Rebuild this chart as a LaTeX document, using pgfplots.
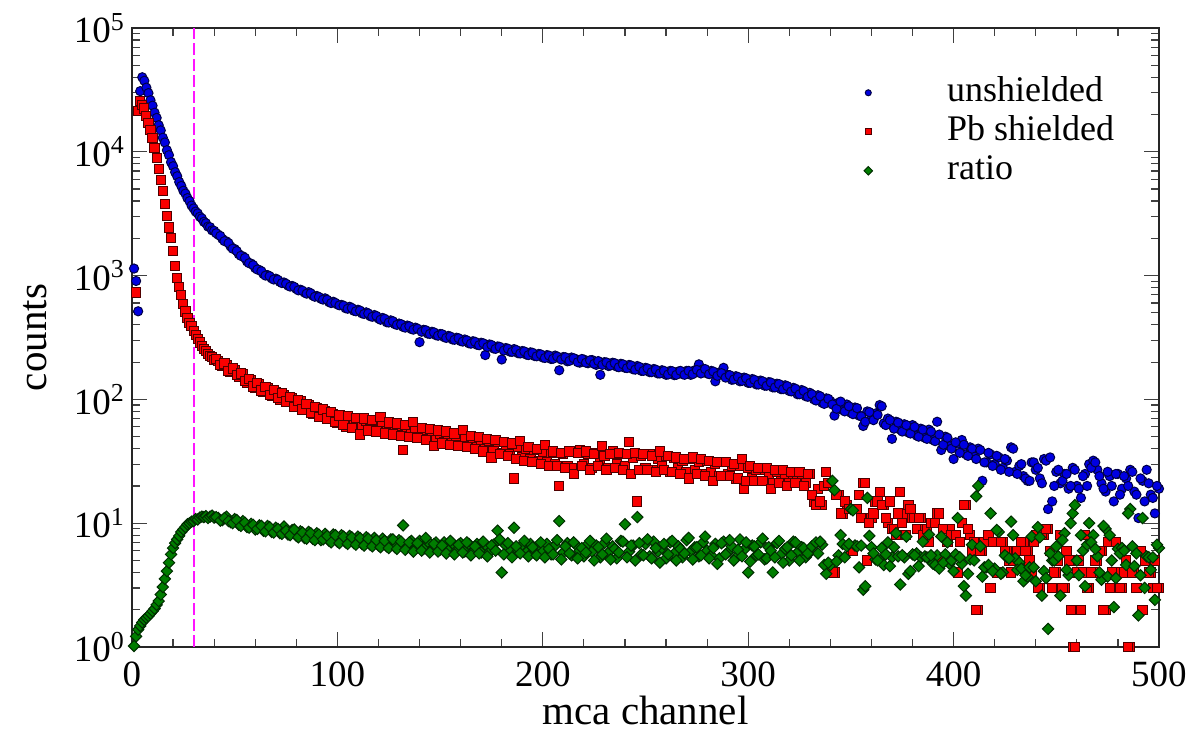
\documentclass[border=0pt]{standalone}
\usepackage{fontspec}
\setmainfont{Liberation Serif}
\usepackage{pgfplots}
\usepackage{pgfplotstable}
\pgfplotsset{compat=1.18}
\definecolor{bfill}{RGB}{0,0,225}
\definecolor{bedge}{RGB}{0,0,70}
\definecolor{rfill}{RGB}{250,0,0}
\definecolor{redge}{RGB}{80,0,0}
\definecolor{gfill}{RGB}{0,125,0}
\definecolor{gedge}{RGB}{0,45,0}
\definecolor{vline}{RGB}{255,20,255}

\pgfplotstableread[row sep=\\]{
x y\\
1 1140\\ 2 905\\ 3 515\\ 4 30900\\ 5 40000\\ 6 37500\\ 7 33000\\ 8 29800\\ 9 26100\\ 10 23600\\
11 20700\\ 12 18800\\ 13 16400\\ 14 14900\\ 15 13000\\ 16 11900\\ 17 10300\\ 18 9400\\ 19 8250\\ 20 7650\\
21 6850\\ 22 6350\\ 23 5700\\ 24 5300\\ 25 4850\\ 26 4600\\ 27 4230\\ 28 4000\\ 29 3680\\ 30 3490\\
31 3290\\ 32 3180\\ 33 2990\\ 34 2900\\ 35 2720\\ 36 2650\\ 37 2490\\ 38 2460\\ 39 2320\\ 40 2300\\
42 2140\\ 44 1980\\ 46 1890\\ 48 1720\\ 50 1640\\ 52 1490\\ 54 1430\\ 56 1300\\ 58 1250\\ 60 1150\\
62 1110\\ 64 1030\\ 66 1010\\ 68 950\\ 70 945\\ 72 890\\ 74 880\\ 76 830\\ 78 825\\ 80 780\\
82 770\\ 84 730\\ 86 735\\ 88 690\\ 90 685\\ 92 650\\ 94 655\\ 96 610\\ 98 615\\ 100 585\\
102 580\\ 104 545\\ 106 560\\ 108 520\\ 110 530\\ 112 495\\ 114 505\\ 116 470\\ 118 480\\ 120 450\\
122 455\\ 124 420\\ 126 435\\ 128 405\\ 130 410\\ 132 385\\ 134 395\\ 136 370\\ 138 380\\ 140 290\\
142 365\\ 144 340\\ 146 352\\ 148 330\\ 150 338\\ 152 318\\ 154 326\\ 156 305\\ 158 315\\ 160 296\\
162 305\\ 164 284\\ 166 295\\ 168 276\\ 170 287\\ 172 228\\ 174 278\\ 176 258\\ 178 268\\ 180 210\\
182 260\\ 184 243\\ 186 255\\ 188 236\\ 190 246\\ 192 230\\ 194 240\\ 196 224\\ 198 233\\ 200 218\\
202 228\\ 204 212\\ 206 226\\ 208 172\\ 210 220\\ 212 203\\ 214 218\\ 216 212\\ 218 198\\ 220 210\\
222 196\\ 224 208\\ 226 190\\ 228 158\\ 230 200\\ 232 186\\ 234 198\\ 236 184\\ 238 194\\ 240 180\\
242 190\\ 244 175\\ 246 186\\ 248 170\\ 250 180\\ 252 166\\ 254 176\\ 256 162\\ 258 172\\ 260 158\\
262 170\\ 264 157\\ 266 168\\ 268 160\\ 270 170\\ 272 158\\ 274 172\\ 276 192\\ 278 175\\ 280 162\\
282 170\\ 284 140\\ 286 165\\ 288 180\\ 290 158\\ 292 144\\ 294 154\\ 296 140\\ 298 150\\ 300 136\\
302 146\\ 304 132\\ 306 142\\ 308 129\\ 310 138\\ 312 125\\ 314 134\\ 316 121\\ 318 130\\ 320 117\\
322 124\\ 324 110\\ 326 119\\ 328 106\\ 330 113\\ 332 100\\ 334 108\\ 336 94\\ 338 102\\ 340 97\\
342 74\\ 344 94\\ 346 82\\ 348 91\\ 350 78\\ 352 86\\ 354 74\\ 356 61\\ 358 80\\ 360 70\\
362 77\\ 364 90\\ 366 64\\ 368 70\\ 370 48\\ 372 66\\ 374 57\\ 376 63\\ 378 54\\ 380 62\\
382 51\\ 384 58\\ 386 49\\ 388 57\\ 390 47\\ 392 66\\ 394 39\\ 396 50\\ 398 42\\ 400 33\\
402 44\\ 404 47\\ 406 36\\ 408 41\\ 410 35\\ 412 40\\ 414 22\\ 416 31\\ 418 36\\ 420 30\\
422 34\\ 424 28\\ 426 32\\ 428 41\\ 430 26\\ 432 29\\ 434 24\\ 436 22\\ 438 31\\ 440 27\\
442 23\\ 444 33\\ 446 13\\ 448 15\\ 450 26\\ 452 21\\ 454 25\\ 456 19\\ 458 28\\ 460 20\\
462 16\\ 464 25\\ 466 30\\ 468 32\\ 470 27\\ 472 21\\ 474 18\\ 476 24\\ 478 15\\ 480 25\\
482 19\\ 484 23\\ 486 27\\ 488 18\\ 490 11\\ 492 22\\ 494 27\\ 496 17\\ 498 12\\ 500 19\\
41 2200\\ 43 2090\\ 45 1900\\ 47 1830\\ 49 1650\\ 51 1580\\ 53 1445\\ 55 1390\\ 57 1260\\ 59 1215\\
61 1120\\ 63 1085\\ 65 1000\\ 67 990\\ 69 930\\ 71 925\\ 73 870\\ 75 860\\ 77 815\\ 79 810\\
81 760\\ 83 755\\ 85 715\\ 87 720\\ 89 675\\ 91 672\\ 93 640\\ 95 638\\ 97 600\\ 99 602\\
101 575\\ 103 572\\ 105 540\\ 107 548\\ 109 515\\ 111 522\\ 113 490\\ 115 495\\ 117 465\\ 119 472\\
121 440\\ 123 448\\ 125 418\\ 127 428\\ 129 400\\ 131 405\\ 133 380\\ 135 390\\ 137 366\\ 139 373\\
141 352\\ 143 362\\ 145 338\\ 147 348\\ 149 327\\ 151 336\\ 153 314\\ 155 322\\ 157 303\\ 159 312\\
161 293\\ 163 300\\ 165 282\\ 167 292\\ 169 274\\ 171 284\\ 173 265\\ 175 275\\ 177 256\\ 179 266\\
181 248\\ 183 257\\ 185 242\\ 187 251\\ 189 235\\ 191 244\\ 193 228\\ 195 238\\ 197 223\\ 199 231\\
201 216\\ 203 226\\ 205 213\\ 207 222\\ 209 210\\ 211 219\\ 213 205\\ 215 215\\ 217 200\\ 219 212\\
221 198\\ 223 207\\ 225 194\\ 227 204\\ 229 190\\ 231 199\\ 233 188\\ 235 196\\ 237 182\\ 239 192\\
241 179\\ 243 188\\ 245 174\\ 247 183\\ 249 170\\ 251 178\\ 253 166\\ 255 174\\ 257 162\\ 259 170\\
261 159\\ 263 169\\ 265 158\\ 267 170\\ 269 158\\ 271 170\\ 273 160\\ 275 173\\ 277 162\\ 279 176\\
281 160\\ 283 168\\ 285 155\\ 287 163\\ 289 150\\ 291 157\\ 293 145\\ 295 152\\ 297 141\\ 299 148\\
301 136\\ 303 144\\ 305 132\\ 307 140\\ 309 129\\ 311 137\\ 313 125\\ 315 133\\ 317 121\\ 319 128\\
321 116\\ 323 122\\ 325 110\\ 327 117\\ 329 105\\ 331 110\\ 333 98\\ 335 106\\ 337 92\\ 339 101\\
341 91\\ 343 84\\ 345 96\\ 347 80\\ 349 88\\ 351 76\\ 353 85\\ 355 73\\ 357 66\\ 359 79\\
361 68\\ 363 75\\ 365 88\\ 367 62\\ 369 68\\ 371 58\\ 373 65\\ 375 55\\ 377 62\\ 379 53\\
381 60\\ 383 50\\ 385 57\\ 387 48\\ 389 55\\ 391 46\\ 393 52\\ 395 43\\ 397 49\\ 399 40\\
401 45\\ 403 37\\ 405 43\\ 407 35\\ 409 40\\ 411 33\\ 413 39\\ 415 31\\ 417 37\\ 419 29\\
421 35\\ 423 27\\ 425 33\\ 427 26\\ 429 40\\ 431 25\\ 433 30\\ 435 23\\ 437 22\\ 439 31\\
441 28\\ 443 21\\ 445 32\\ 447 34\\ 449 20\\ 451 27\\ 453 22\\ 455 25\\ 457 20\\ 459 27\\
461 19\\ 463 24\\ 465 20\\ 467 28\\ 469 31\\ 471 24\\ 473 19\\ 475 26\\ 477 20\\ 479 25\\
481 17\\ 483 24\\ 485 20\\ 487 26\\ 489 17\\ 491 23\\ 493 15\\ 495 21\\ 497 16\\ 499 20\\
}\unshielded

\pgfplotstableread[row sep=\\]{
x y\\
2 730\\ 3 21400\\ 4 25700\\ 5 24000\\ 6 22400\\ 7 19500\\ 8 17000\\ 9 15100\\ 10 12900\\
11 10700\\ 12 8900\\ 13 7240\\ 14 5890\\ 15 4790\\ 16 3800\\ 17 3020\\ 18 2450\\ 19 2000\\ 20 1585\\
21 1200\\ 22 955\\ 23 813\\ 24 692\\ 25 589\\ 26 513\\ 27 457\\ 28 417\\ 29 389\\ 30 355\\
31 331\\ 32 309\\ 33 288\\ 34 269\\ 35 257\\ 36 245\\ 37 234\\ 38 224\\ 39 219\\ 40 209\\
42 205\\ 44 186\\ 46 190\\ 48 168\\ 50 172\\ 52 152\\ 54 160\\ 56 136\\ 58 142\\ 60 124\\
62 132\\ 64 114\\ 66 124\\ 68 106\\ 70 115\\ 72 100\\ 74 109\\ 76 95\\ 78 102\\ 80 88\\
82 96\\ 84 82\\ 86 90\\ 88 77\\ 90 85\\ 92 73\\ 94 80\\ 96 69\\ 98 76\\ 100 65\\
102 72\\ 104 60\\ 106 70\\ 108 62\\ 110 69\\ 112 60\\ 114 67\\ 116 58\\ 118 66\\ 120 57\\
122 63\\ 124 55\\ 126 62\\ 128 54\\ 130 61\\ 132 39\\ 134 59\\ 136 52\\ 138 58\\ 140 50\\
142 56\\ 144 48\\ 146 55\\ 148 47\\ 150 53\\ 152 45\\ 154 52\\ 156 44\\ 158 51\\ 160 43\\
162 49\\ 164 42\\ 166 48\\ 168 41\\ 170 47\\ 172 40\\ 174 46\\ 176 38\\ 178 45\\ 180 37\\
182 43\\ 184 36\\ 186 23\\ 188 41\\ 190 34\\ 192 40\\ 194 33\\ 196 39\\ 198 32\\ 200 38\\
202 31\\ 204 37\\ 206 30\\ 208 20\\ 210 36\\ 212 29\\ 214 28\\ 216 38\\ 218 39\\ 220 30\\
222 36\\ 224 28\\ 226 37\\ 228 31\\ 230 35\\ 232 28\\ 234 38\\ 236 30\\ 238 36\\ 240 29\\
242 45\\ 244 34\\ 246 15\\ 248 35\\ 250 28\\ 252 36\\ 254 27\\ 256 33\\ 258 29\\ 260 35\\
262 26\\ 264 34\\ 266 28\\ 268 32\\ 270 26\\ 272 33\\ 274 27\\ 276 31\\ 278 25\\ 280 32\\
282 26\\ 284 30\\ 286 24\\ 288 31\\ 290 25\\ 292 29\\ 294 23\\ 296 29\\ 298 19\\ 300 28\\
302 23\\ 304 27\\ 306 22\\ 308 27\\ 310 24\\ 312 21\\ 314 26\\ 316 22\\ 318 25\\ 320 21\\
322 25\\ 324 22\\ 326 24\\ 328 21\\ 330 25\\ 332 15\\ 334 19\\ 336 14\\ 338 26\\ 340 21\\
342 4\\ 344 17\\ 346 12\\ 348 14\\ 350 6\\ 352 13\\ 354 17\\ 356 21\\ 358 5\\ 360 11\\
362 15\\ 364 18\\ 366 14\\ 368 10\\ 370 9\\ 372 8\\ 374 18\\ 376 12\\ 378 14\\ 380 11\\
382 9\\ 384 11\\ 386 9\\ 388 7\\ 390 10\\ 392 12\\ 394 5\\ 396 9\\ 398 9\\ 400 8\\
402 4\\ 404 10\\ 406 14\\ 408 8\\ 410 7\\ 412 2\\ 414 6\\ 416 7\\ 418 3\\ 420 7\\
422 4\\ 424 7\\ 426 6\\ 428 4\\ 430 5\\ 432 6\\ 434 7\\ 436 6\\ 438 4\\ 440 8\\
442 3\\ 444 8\\ 446 9\\ 448 3\\ 450 4\\ 452 8\\ 454 3\\ 456 5\\ 458 1\\ 460 4\\
462 2\\ 464 8\\ 466 3\\ 468 4\\ 470 5\\ 472 6\\ 474 2\\ 476 3\\ 478 7\\ 480 4\\
482 3\\ 484 5\\ 486 1\\ 488 4\\ 490 6\\ 492 2\\ 494 5\\ 496 4\\ 498 5\\ 500 3\\
41 212\\ 43 190\\ 45 195\\ 47 170\\ 49 178\\ 51 158\\ 53 162\\ 55 140\\ 57 146\\ 59 127\\
61 135\\ 63 118\\ 65 126\\ 67 108\\ 69 119\\ 71 102\\ 73 112\\ 75 96\\ 77 104\\ 79 87\\
81 98\\ 83 83\\ 85 92\\ 87 78\\ 89 87\\ 91 72\\ 93 83\\ 95 70\\ 97 79\\ 99 66\\
101 74\\ 103 62\\ 105 73\\ 107 59\\ 109 71\\ 111 52\\ 113 70\\ 115 56\\ 117 68\\ 119 55\\
121 72\\ 123 53\\ 125 65\\ 127 52\\ 129 64\\ 131 51\\ 133 62\\ 135 50\\ 137 66\\ 139 49\\
141 59\\ 143 47\\ 145 58\\ 147 42\\ 149 56\\ 151 44\\ 153 55\\ 155 43\\ 157 53\\ 159 42\\
161 57\\ 163 41\\ 165 51\\ 167 40\\ 169 50\\ 171 38\\ 173 48\\ 175 34\\ 177 47\\ 179 36\\
181 45\\ 183 35\\ 185 44\\ 187 33\\ 189 46\\ 191 32\\ 193 41\\ 195 31\\ 197 40\\ 199 30\\
201 43\\ 203 29\\ 205 38\\ 207 29\\ 209 37\\ 211 28\\ 213 38\\ 215 25\\ 217 37\\ 219 29\\
221 38\\ 223 27\\ 225 36\\ 227 29\\ 229 42\\ 231 27\\ 233 36\\ 235 28\\ 237 37\\ 239 27\\
241 36\\ 243 25\\ 245 37\\ 247 27\\ 249 36\\ 251 27\\ 253 35\\ 255 26\\ 257 38\\ 259 27\\
261 35\\ 263 26\\ 265 34\\ 267 25\\ 269 33\\ 271 23\\ 273 34\\ 275 25\\ 277 33\\ 279 24\\
281 32\\ 283 22\\ 285 31\\ 287 24\\ 289 31\\ 291 24\\ 293 30\\ 295 23\\ 297 33\\ 299 22\\
301 29\\ 303 22\\ 305 28\\ 307 22\\ 309 28\\ 311 19\\ 313 27\\ 315 21\\ 317 27\\ 319 20\\
321 26\\ 323 21\\ 325 26\\ 327 20\\ 329 25\\ 331 17\\ 333 14\\ 335 15\\ 337 20\\ 339 21\\
341 4\\ 343 17\\ 345 12\\ 347 15\\ 349 13\\ 351 6\\ 353 13\\ 355 11\\ 357 21\\ 359 10\\
361 12\\ 363 15\\ 365 14\\ 367 11\\ 369 15\\ 371 9\\ 373 12\\ 375 10\\ 377 8\\ 379 13\\
381 11\\ 383 11\\ 385 8\\ 387 9\\ 389 10\\ 391 10\\ 393 12\\ 395 9\\ 397 7\\ 399 8\\
401 8\\ 403 7\\ 405 14\\ 407 9\\ 409 6\\ 411 2\\ 413 6\\ 415 7\\ 417 8\\ 419 7\\
421 4\\ 423 7\\ 425 6\\ 427 5\\ 429 5\\ 431 6\\ 433 7\\ 435 6\\ 437 5\\ 439 7\\
441 3\\ 443 8\\ 445 9\\ 447 6\\ 449 4\\ 451 5\\ 453 3\\ 455 6\\ 457 2\\ 459 1\\
461 5\\ 463 4\\ 465 3\\ 467 4\\ 469 5\\ 471 6\\ 473 2\\ 475 7\\ 477 4\\ 479 7\\
481 3\\ 483 4\\ 485 1\\ 487 4\\ 489 3\\ 491 6\\ 493 5\\ 495 4\\ 497 3\\ 499 3\\
}\shielded

\pgfplotstableread[row sep=\\]{
x y\\
1 1.02\\ 2 1.22\\ 3 1.38\\ 4 1.48\\ 5 1.58\\ 6 1.66\\ 7 1.72\\ 8 1.78\\ 9 1.86\\ 10 1.95\\
11 2.04\\ 12 2.19\\ 13 2.35\\ 14 2.65\\ 15 3.05\\ 16 3.55\\ 17 4.1\\ 18 4.8\\ 19 5.6\\ 20 6.3\\
21 6.9\\ 22 7.4\\ 23 7.9\\ 24 8.5\\ 25 8.9\\ 26 9.3\\ 27 9.8\\ 28 10.0\\ 29 10.3\\ 30 10.4\\
31 10.8\\ 32 10.7\\ 33 11.1\\ 34 11.3\\ 35 11.2\\ 36 11.4\\ 37 11.0\\ 38 11.3\\ 39 11.5\\ 40 11.1\\
42 11.0\\ 44 10.6\\ 46 11.3\\ 48 10.2\\ 50 10.8\\ 52 9.7\\ 54 10.4\\ 56 9.3\\ 58 9.9\\ 60 8.9\\
62 9.6\\ 64 8.7\\ 66 9.5\\ 68 8.5\\ 70 9.2\\ 72 8.3\\ 74 9.4\\ 76 8.1\\ 78 8.8\\ 80 7.9\\
82 8.6\\ 84 7.6\\ 86 8.5\\ 88 7.5\\ 90 8.3\\ 92 7.3\\ 94 8.2\\ 96 7.2\\ 98 8.1\\ 100 7.1\\
102 8.0\\ 104 7.0\\ 106 7.9\\ 108 6.9\\ 110 7.8\\ 112 6.8\\ 114 7.7\\ 116 6.7\\ 118 7.6\\ 120 6.6\\
122 7.5\\ 124 6.5\\ 126 7.4\\ 128 6.4\\ 130 7.3\\ 132 9.6\\ 134 6.4\\ 136 7.2\\ 138 6.3\\ 140 7.2\\
142 6.2\\ 144 7.1\\ 146 6.1\\ 148 7.0\\ 150 6.1\\ 152 7.0\\ 154 6.0\\ 156 6.9\\ 158 6.0\\ 160 6.9\\
162 5.9\\ 164 6.8\\ 166 5.9\\ 168 6.8\\ 170 5.8\\ 172 6.7\\ 174 5.8\\ 176 6.7\\ 178 8.7\\ 180 4.0\\
182 6.6\\ 184 5.9\\ 186 9.2\\ 188 6.0\\ 190 6.7\\ 192 5.8\\ 194 6.8\\ 196 5.7\\ 198 6.7\\ 200 5.9\\
202 6.8\\ 204 5.6\\ 206 6.6\\ 208 10.4\\ 210 5.8\\ 212 6.9\\ 214 5.5\\ 216 6.7\\ 218 6.0\\ 220 5.4\\
222 6.8\\ 224 5.9\\ 226 6.6\\ 228 5.3\\ 230 6.9\\ 232 5.8\\ 234 6.5\\ 236 5.2\\ 238 7.2\\ 240 9.8\\
242 5.9\\ 244 6.6\\ 246 11.2\\ 248 5.6\\ 250 6.8\\ 252 5.4\\ 254 7.1\\ 256 5.9\\ 258 6.3\\ 260 5.2\\
262 7.0\\ 264 5.7\\ 266 6.5\\ 268 5.3\\ 270 7.3\\ 272 5.9\\ 274 6.4\\ 276 5.4\\ 278 7.0\\ 280 6.0\\
282 5.5\\ 284 6.8\\ 286 5.2\\ 288 7.1\\ 290 5.8\\ 292 6.5\\ 294 5.3\\ 296 7.4\\ 298 6.1\\ 300 4.0\\
302 6.6\\ 304 5.5\\ 306 7.0\\ 308 5.1\\ 310 6.4\\ 312 4.0\\ 314 6.9\\ 316 5.6\\ 318 6.2\\ 320 5.0\\
322 7.1\\ 324 5.8\\ 326 6.4\\ 328 5.3\\ 330 5.8\\ 332 6.7\\ 334 5.7\\ 336 6.7\\ 338 3.9\\ 340 4.6\\
342 18.5\\ 344 5.5\\ 346 6.8\\ 348 6.5\\ 350 13\\ 352 6.6\\ 354 4.4\\ 356 2.9\\ 358 16\\ 360 6.4\\
362 5.1\\ 364 5.0\\ 366 4.6\\ 368 7.0\\ 370 5.3\\ 372 8.3\\ 374 3.2\\ 376 5.3\\ 378 3.9\\ 380 5.6\\
382 5.7\\ 384 5.3\\ 386 5.4\\ 388 8.1\\ 390 4.7\\ 392 5.5\\ 394 7.8\\ 396 5.6\\ 398 4.7\\ 400 4.1\\
402 11\\ 404 4.7\\ 406 2.6\\ 408 5.1\\ 410 5.0\\ 412 20\\ 414 3.7\\ 416 4.4\\ 418 12\\ 420 4.3\\
422 8.5\\ 424 4.0\\ 426 5.3\\ 428 10.3\\ 430 5.2\\ 432 4.8\\ 434 3.4\\ 436 3.7\\ 438 7.8\\ 440 3.4\\
442 7.7\\ 444 4.1\\ 446 1.4\\ 448 5.0\\ 450 6.5\\ 452 2.6\\ 454 8.3\\ 456 3.8\\ 458 12\\ 460 5.0\\
462 8.0\\ 464 3.1\\ 466 10\\ 468 8.0\\ 470 5.4\\ 472 3.5\\ 474 9.0\\ 476 8.0\\ 478 2.1\\ 480 6.2\\
482 6.3\\ 484 4.6\\ 486 13\\ 488 4.5\\ 490 1.8\\ 492 11\\ 494 5.4\\ 496 4.2\\ 498 2.4\\ 500 6.3\\
41 11.2\\ 43 10.5\\ 45 11.0\\ 47 10.4\\ 49 10.0\\ 51 10.6\\ 53 9.5\\ 55 10.1\\ 57 9.2\\ 59 9.7\\
61 9.0\\ 63 9.5\\ 65 8.6\\ 67 9.3\\ 69 8.4\\ 71 9.0\\ 73 8.2\\ 75 8.7\\ 77 8.0\\ 79 8.9\\
81 7.7\\ 83 8.4\\ 85 7.5\\ 87 8.3\\ 89 7.3\\ 91 8.1\\ 93 7.4\\ 95 7.9\\ 97 7.0\\ 99 8.0\\
101 6.9\\ 103 7.8\\ 105 6.8\\ 107 7.7\\ 109 6.7\\ 111 7.6\\ 113 6.6\\ 115 7.5\\ 117 6.5\\ 119 7.3\\
121 6.4\\ 123 7.2\\ 125 6.3\\ 127 7.4\\ 129 6.2\\ 131 7.1\\ 133 6.1\\ 135 7.0\\ 137 5.9\\ 139 6.9\\
141 6.0\\ 143 7.6\\ 145 5.8\\ 147 6.8\\ 149 5.9\\ 151 6.6\\ 153 5.7\\ 155 7.2\\ 157 5.6\\ 159 6.7\\
161 5.8\\ 163 7.0\\ 165 5.5\\ 167 6.5\\ 169 5.7\\ 171 7.1\\ 173 5.4\\ 175 6.6\\ 177 6.0\\ 179 7.4\\
181 5.6\\ 183 6.9\\ 185 5.3\\ 187 6.5\\ 189 5.7\\ 191 7.2\\ 193 5.4\\ 195 6.4\\ 197 5.5\\ 199 7.0\\
201 5.3\\ 203 6.2\\ 205 5.6\\ 207 7.3\\ 209 5.1\\ 211 6.5\\ 213 5.7\\ 215 7.0\\ 217 5.2\\ 219 6.3\\
221 5.8\\ 223 7.2\\ 225 5.0\\ 227 6.4\\ 229 5.6\\ 231 7.5\\ 233 5.1\\ 235 6.2\\ 237 5.8\\ 239 7.1\\
241 5.3\\ 243 6.6\\ 245 5.0\\ 247 6.9\\ 249 5.5\\ 251 7.4\\ 253 5.2\\ 255 6.3\\ 257 4.8\\ 259 6.8\\
261 5.6\\ 263 7.2\\ 265 5.0\\ 267 6.2\\ 269 5.7\\ 271 7.6\\ 273 5.1\\ 275 6.4\\ 277 5.5\\ 279 7.8\\
281 5.2\\ 283 6.3\\ 285 4.7\\ 287 6.9\\ 289 5.6\\ 291 7.3\\ 293 5.0\\ 295 6.1\\ 297 5.4\\ 299 7.0\\
301 4.9\\ 303 6.5\\ 305 5.6\\ 307 7.5\\ 309 5.2\\ 311 6.0\\ 313 5.3\\ 315 7.2\\ 317 4.8\\ 319 6.4\\
321 5.5\\ 323 7.0\\ 325 5.0\\ 327 6.3\\ 329 5.7\\ 331 6.5\\ 333 7.0\\ 335 7.1\\ 337 4.6\\ 339 4.8\\
341 22\\ 343 4.9\\ 345 8.0\\ 347 5.3\\ 349 6.8\\ 351 12.7\\ 353 6.5\\ 355 6.6\\ 357 3.1\\ 359 7.9\\
361 5.7\\ 363 5.0\\ 365 6.3\\ 367 5.6\\ 369 4.5\\ 371 6.4\\ 373 5.4\\ 375 5.5\\ 377 7.8\\ 379 4.1\\
381 5.5\\ 383 4.5\\ 385 7.1\\ 387 5.3\\ 389 5.5\\ 391 4.6\\ 393 4.3\\ 395 4.8\\ 397 7.0\\ 399 5.0\\
401 5.6\\ 403 5.3\\ 405 3.1\\ 407 3.9\\ 409 6.7\\ 411 16.5\\ 413 6.5\\ 415 4.4\\ 417 4.6\\ 419 4.1\\
421 8.8\\ 423 3.9\\ 425 5.5\\ 427 5.2\\ 429 8.0\\ 431 4.2\\ 433 4.3\\ 435 3.8\\ 437 4.4\\ 439 4.4\\
441 9.3\\ 443 2.6\\ 445 3.6\\ 447 5.7\\ 449 5.0\\ 451 5.4\\ 453 7.3\\ 455 4.2\\ 457 10\\ 459 14\\
461 3.8\\ 463 6.0\\ 465 6.7\\ 467 7.0\\ 469 6.2\\ 471 4.0\\ 473 9.5\\ 475 3.7\\ 477 5.0\\ 479 3.6\\
481 5.7\\ 483 6.0\\ 485 12\\ 487 6.5\\ 489 5.7\\ 491 3.8\\ 493 3.0\\ 495 5.3\\ 497 5.3\\ 499 6.7\\
}\ratio

\begin{document}
\begin{tikzpicture}
\begin{axis}[
  at={(0pt,0pt)}, anchor=south west, scale only axis,
  width=513.5pt, height=309.5pt,
  xmin=0, xmax=500, ymin=1, ymax=100000, ymode=log,
  xtick={0,100,200,300,400,500},
  xticklabels={0,100,200,300,400,500},
  minor x tick num=4,
  ytick={1,10,100,1000,10000,100000},
  yticklabels={10\textsuperscript{0},10\textsuperscript{1},10\textsuperscript{2},10\textsuperscript{3},10\textsuperscript{4},10\textsuperscript{5}},
  minor ytick={2,3,4,5,6,7,8,9,20,30,40,50,60,70,80,90,200,300,400,500,600,700,800,900,2000,3000,4000,5000,6000,7000,8000,9000,20000,30000,40000,50000,60000,70000,80000,90000},
  tick align=inside,
  major tick length=7.5pt, minor tick length=4pt,
  axis line style={line width=1pt, black!85},
  every tick/.style={black!75, line width=0.6pt},
  tick label style={font=\fontsize{18.5}{20}\selectfont},
  xticklabel style={yshift=-4pt},
  xlabel={mca channel}, ylabel={counts},
  label style={font=\fontsize{20.5}{23}\selectfont},
  xlabel style={at={(axis description cs:0.5,-0.103)}, anchor=center},
  ylabel style={at={(axis description cs:-0.0944,0.5)}, anchor=center},
  legend style={at={(rel axis cs:0.711,0.9275)}, anchor=north west, draw=none, fill=none,
    font=\fontsize{18}{20}\selectfont, row sep=0pt, inner sep=0pt,
    nodes={inner sep=1pt, text height=13pt, text depth=4.5pt}},
  legend cell align=left,
  legend image code/.code={\path[draw=none] (-0.1cm,0cm) (1.35cm,0cm); \draw[#1,mark size=1.5pt] plot coordinates {(0cm,0cm)};},
]
\addplot[only marks, mark=*, mark size=2.3pt, mark options={fill=bfill, draw=bedge, line width=0.5pt}] table[x=x,y=y] {\unshielded};
\addlegendentry{unshielded}
\addplot[only marks, mark=square*, mark size=2.3pt, mark options={fill=rfill, draw=redge, line width=0.5pt}] table[x=x,y=y] {\shielded};
\addlegendentry{Pb shielded}
\addplot[only marks, mark=square*, mark size=2.0pt, mark options={rotate=45, fill=gfill, draw=gedge, line width=0.5pt}] table[x=x,y=y] {\ratio};
\addlegendentry{ratio}
\addplot[vline, line width=1.1pt, dash pattern=on 6pt off 2pt, forget plot] coordinates {(30,1) (30,100000)};
\end{axis}
\pgfresetboundingbox
\path[use as bounding box] (-66pt,-47pt) rectangle (529.5pt,323.5pt);
\end{tikzpicture}
\end{document}
